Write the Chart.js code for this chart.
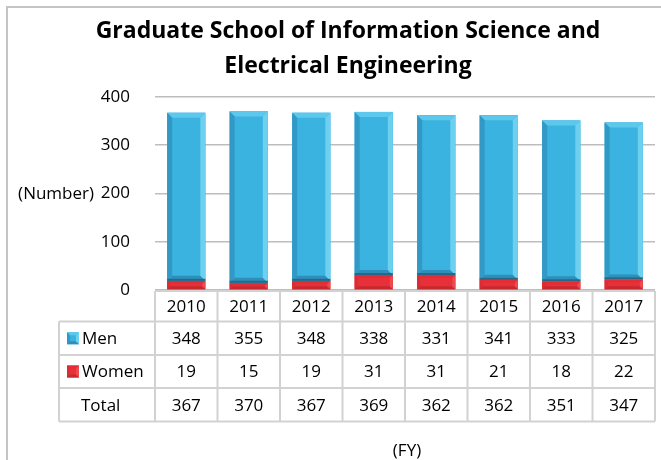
<!DOCTYPE html>
<html>
<head>
<meta charset="utf-8">
<script src="https://cdn.jsdelivr.net/npm/chart.js@4"></script>
<style>
  html, body { margin: 0; padding: 0; background: #fff; }
  #chart { display: block; }
</style>
</head>
<body>
<canvas id="chart" width="661" height="460"></canvas>
<script>
const YEARS = ["2010", "2011", "2012", "2013", "2014", "2015", "2016", "2017"];
const MEN = [348, 355, 348, 338, 331, 341, 333, 325];
const WOMEN = [19, 15, 19, 31, 31, 21, 18, 22];
const TOTAL = [367, 370, 367, 369, 362, 362, 351, 347];

const FONT = "'Open Sans', Lato, sans-serif";

// table rows below the plot (top, bottom in px)
const ROWS = {
  header: [291, 321.5],
  men: [321.5, 355],
  women: [355, 388],
  total: [388, 421.5]
};
const LEGEND_LEFT = 59;


function drawBevelBox(ctx, l, t, r, b, e, colors) {
  ctx.fillStyle = colors.face;
  ctx.fillRect(l, t, r - l, b - t);

  const quad = (pts, color) => {
    if (!color) return;
    ctx.beginPath();
    ctx.moveTo(pts[0][0], pts[0][1]);
    pts.slice(1).forEach(p => ctx.lineTo(p[0], p[1]));
    ctx.closePath();
    ctx.fillStyle = color;
    ctx.fill();
  };

  quad([[l, t], [r, t], [r - e, t + e], [l + e, t + e]], colors.top);
  quad([[l, b], [r, b], [r - e, b - e], [l + e, b - e]], colors.bottom);
  quad([[l, t], [l + e, t + e], [l + e, b - e], [l, b]], colors.left);
  quad([[r, t], [r - e, t + e], [r - e, b - e], [r, b]], colors.right);
}


const bevelPlugin = {
  id: "bevel",
  afterDatasetsDraw(chart) {
    const ctx = chart.ctx;
    ctx.save();
    chart.data.datasets.forEach((ds, di) => {
      const meta = chart.getDatasetMeta(di);
      meta.data.forEach(bar => {
        const p = bar.getProps(["x", "y", "base", "width"], true);
        const l = p.x - p.width / 2;
        const r = p.x + p.width / 2;
        const t = Math.min(p.y, p.base);
        const b = Math.max(p.y, p.base);
        const e = Math.min(ds.bevelSize, (b - t) / 2);
        drawBevelBox(ctx, l, t, r, b, e, ds.bevel);
        if (ds.edgeBottom) {
          ctx.fillStyle = ds.edgeBottom;
          ctx.fillRect(l, b - 2, r - l, 2);
        }
      });
    });
    ctx.restore();
  }
};


const tablePlugin = {
  id: "dataTable",
  beforeDraw(chart) {
    const ctx = chart.ctx;
    ctx.save();
    ctx.strokeStyle = "#c4c4c4";
    ctx.lineWidth = 2;
    ctx.beginPath();
    ctx.moveTo(7, 460);
    ctx.lineTo(7, 7);
    ctx.lineTo(661, 7);
    ctx.stroke();
    ctx.restore();
  },
  afterDraw(chart) {
    const ctx = chart.ctx;
    const x = chart.scales.x;
    const y = chart.scales.y;
    const left = chart.chartArea.left;
    const right = chart.chartArea.right;
    const colW = (right - left) / YEARS.length;

    ctx.save();

    // grid of the table
    ctx.strokeStyle = "#d2d2d2";
    ctx.lineWidth = 2;
    ctx.beginPath();
    ctx.moveTo(left, ROWS.header[0]);
    ctx.lineTo(right, ROWS.header[0]);
    ctx.moveTo(LEGEND_LEFT, ROWS.men[0]);
    ctx.lineTo(right, ROWS.men[0]);
    ctx.moveTo(LEGEND_LEFT, ROWS.women[0]);
    ctx.lineTo(right, ROWS.women[0]);
    ctx.moveTo(LEGEND_LEFT, ROWS.total[0]);
    ctx.lineTo(right, ROWS.total[0]);
    ctx.moveTo(LEGEND_LEFT, ROWS.total[1]);
    ctx.lineTo(right, ROWS.total[1]);
    ctx.moveTo(LEGEND_LEFT, ROWS.men[0]);
    ctx.lineTo(LEGEND_LEFT, ROWS.total[1]);
    for (let i = 0; i <= YEARS.length; i++) {
      const cx = left + i * colW;
      ctx.moveTo(cx, ROWS.header[0]);
      ctx.lineTo(cx, ROWS.total[1]);
    }
    ctx.stroke();

    ctx.fillStyle = "#000";
    ctx.font = "17px " + FONT;
    ctx.textAlign = "center";
    ctx.textBaseline = "middle";

    const mid = r => (r[0] + r[1]) / 2 + 1;
    YEARS.forEach((yr, i) => {
      const cx = x.getPixelForValue(i);
      ctx.fillText(yr, cx, mid(ROWS.header));
      ctx.fillText(String(MEN[i]), cx, mid(ROWS.men));
      ctx.fillText(String(WOMEN[i]), cx, mid(ROWS.women));
      ctx.fillText(String(TOTAL[i]), cx, mid(ROWS.total));
    });

    // row labels with legend keys
    ctx.textAlign = "left";
    const ds = chart.data.datasets;
    [[ds[1], ROWS.men], [ds[0], ROWS.women]].forEach(([d, row]) => {
      const cy = mid(row) - 1;
      drawBevelBox(ctx, 67, cy - 6, 79, cy + 6, 3, d.bevel);
      ctx.fillStyle = "#000";
      ctx.fillText(d.label, 82, mid(row));
    });
    ctx.fillText("Total", 81, mid(ROWS.total));

    // axis captions
    ctx.textAlign = "right";
    ctx.fillText("(Number)", 94, y.getPixelForValue(200) + 1);
    ctx.textAlign = "center";
    ctx.fillText("(FY)", 407, 451);

    ctx.restore();
  }
};


new Chart(document.getElementById("chart"), {
  type: "bar",
  data: {
    labels: YEARS,
    datasets: [
      {
        label: "Women",
        data: WOMEN,
        backgroundColor: "#e8303a",
        bevelSize: 3,
        bevel: {
          face: "#e8303a",
          top: "#e02e36",
          bottom: "#c8282f",
          left: "#d92c34",
          right: "#ee4a50"
        }
      },
      {
        label: "Men",
        data: MEN,
        backgroundColor: "#3ab3e1",
        bevelSize: 5,
        edgeBottom: "#2a6784",
        bevel: {
          face: "#3ab3e1",
          top: "#5cc8ec",
          bottom: "#2f8fba",
          left: "#3299c6",
          right: "#6dd0ee"
        }
      }
    ]
  },
  options: {
    responsive: false,
    animation: false,
    layout: {
      padding: { top: 0, left: 41, right: 6, bottom: 170 }
    },
    datasets: {
      bar: {
        categoryPercentage: 1,
        barPercentage: 0.61
      }
    },
    plugins: {
      legend: { display: false },
      tooltip: { enabled: false },
      title: {
        display: true,
        text: [
          "Graduate School of Information Science and",
          "Electrical Engineering"
        ],
        color: "#000",
        font: { family: FONT, size: 23, weight: "bold", lineHeight: 1.52 },
        padding: { top: 14, bottom: 13 }
      }
    },
    scales: {
      x: {
        stacked: true,
        display: false
      },
      y: {
        stacked: true,
        min: 0,
        max: 400,
        afterFit(scale) { scale.width = 114; },
        border: { display: false },
        grid: {
          color: "#bdbdbd",
          lineWidth: 1.5,
          drawTicks: false
        },
        ticks: {
          stepSize: 100,
          padding: 25,
          color: "#000",
          font: { family: FONT, size: 17 }
        }
      }
    }
  },
  plugins: [bevelPlugin, tablePlugin]
});
</script>
</body>
</html>
